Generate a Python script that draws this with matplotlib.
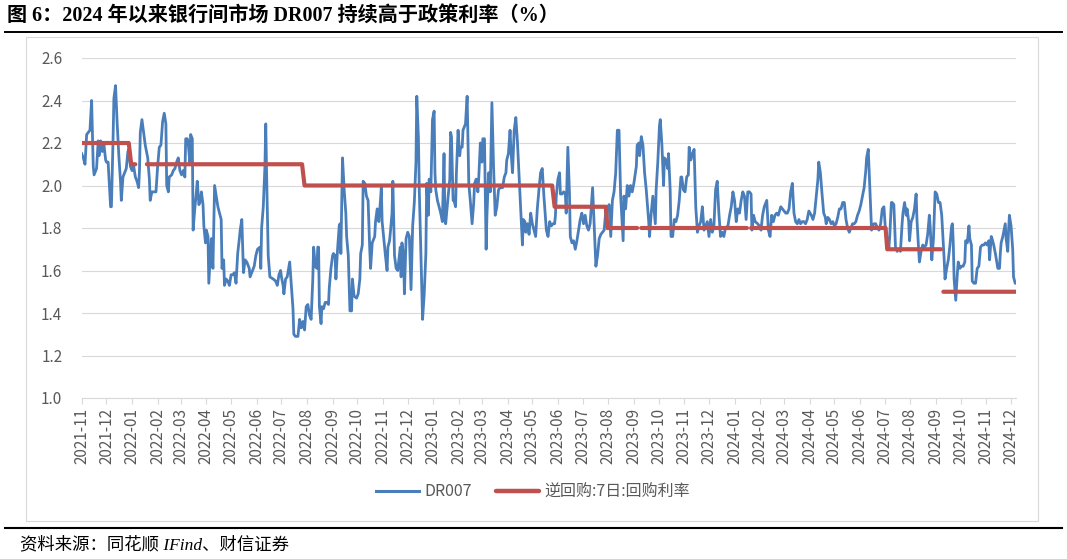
import numpy as np
import matplotlib
matplotlib.use("Agg")
import matplotlib.pyplot as plt
import matplotlib.dates as mdates
from matplotlib.lines import Line2D
from matplotlib.patches import Rectangle

plt.rcParams['font.family'] = ['Noto Sans CJK SC', 'DejaVu Sans']

# ---------------- data ----------------
START_DATE = '2021-11-01'   # day 0 of the series
END_DAY = 1132

# DR007 (days since START_DATE, %)
DR007_DAYS = [
    0, 2, 4, 6, 8, 10, 12, 14, 15, 18,
    20, 21, 23, 25, 27, 29, 30, 32, 34, 35,
    36, 38, 39, 41, 43, 45, 47, 48, 50, 52,
    54, 56, 57, 59, 61, 63, 65, 67, 69, 70,
    71, 73, 75, 77, 80, 82, 83, 85, 87, 90,
    92, 94, 96, 98, 100, 102, 103, 105, 106, 109,
    111, 113, 115, 117, 118, 119, 121, 123, 125, 126,
    128, 129, 131, 132, 134, 135, 137, 139, 140, 142,
    144, 145, 147, 148, 150, 151, 153, 154, 156, 157,
    159, 161, 163, 165, 167, 169, 170, 172, 173, 175,
    177, 179, 181, 183, 185, 187, 189, 191, 192, 194,
    196, 198, 200, 203, 204, 207, 209, 211, 213, 216,
    217, 218, 220, 222, 223, 224, 226, 228, 232, 235,
    237, 239, 241, 242, 244, 245, 247, 249, 252, 254,
    256, 257, 259, 262, 264, 266, 268, 270, 272, 274,
    276, 278, 280, 281, 283, 285, 286, 287, 288, 290,
    291, 293, 295, 297, 299, 300, 302, 304, 305, 307,
    308, 310, 312, 313, 314, 316, 318, 320, 321, 323,
    325, 327, 328, 330, 333, 335, 337, 338, 340, 341,
    343, 345, 347, 349, 350, 352, 355, 356, 358, 360,
    362, 363, 364, 366, 368, 370, 371, 373, 374, 376,
    377, 379, 381, 383, 384, 386, 387, 388, 390, 391,
    393, 395, 397, 399, 401, 403, 405, 406, 408, 409,
    411, 413, 415, 417, 418, 420, 421, 423, 425, 427,
    428, 429, 431, 433, 435, 437, 439, 440, 441, 444,
    446, 447, 448, 450, 451, 453, 454, 456, 458, 459,
    461, 462, 465, 467, 469, 471, 473, 475, 476, 478,
    480, 481, 483, 485, 486, 488, 489, 490, 491, 493,
    494, 495, 497, 499, 501, 503, 505, 507, 510, 512,
    514, 515, 517, 519, 520, 522, 524, 526, 528, 530,
    533, 534, 535, 537, 538, 540, 541, 542, 544, 546,
    548, 550, 552, 554, 556, 558, 560, 562, 563, 565,
    567, 569, 571, 573, 574, 575, 577, 579, 580, 582,
    584, 586, 587, 589, 591, 592, 594, 596, 598, 600,
    602, 604, 606, 608, 610, 612, 614, 616, 619, 621,
    623, 625, 627, 629, 631, 633, 635, 637, 639, 641,
    643, 645, 647, 649, 651, 653, 655, 656, 657, 659,
    661, 663, 665, 667, 669, 672, 673, 675, 676, 678,
    680, 682, 684, 687, 688, 690, 692, 695, 696, 698,
    700, 701, 703, 705, 706, 708, 710, 711, 713, 714,
    716, 718, 720, 722, 724, 726, 727, 729, 731, 733,
    735, 736, 738, 740, 742, 744, 746, 748, 750, 752,
    754, 756, 758, 760, 762, 764, 766, 768, 770, 772,
    774, 776, 778, 780, 783, 785, 787, 789, 791, 793,
    795, 797, 799, 801, 803, 805, 807, 809, 811, 812,
    814, 816, 819, 821, 823, 825, 827, 830, 832, 834,
    836, 838, 840, 842, 844, 847, 849, 851, 853, 855,
    857, 859, 861, 863, 865, 867, 869, 871, 873, 875,
    877, 879, 881, 884, 886, 888, 890, 892, 893, 895,
    897, 899, 901, 902, 904, 906, 908, 910, 912, 914,
    916, 918, 920, 922, 924, 926, 928, 930, 932, 934,
    936, 938, 940, 942, 944, 946, 948, 950, 951, 953,
    955, 957, 958, 960, 962, 964, 966, 968, 970, 972,
    974, 976, 978, 979, 981, 982, 984, 986, 988, 990,
    992, 994, 995, 997, 999, 1000, 1002, 1003, 1005, 1007,
    1009, 1011, 1012, 1014, 1015, 1017, 1019, 1021, 1023, 1025,
    1027, 1028, 1030, 1032, 1034, 1036, 1038, 1040, 1042, 1043,
    1045, 1046, 1048, 1050, 1052, 1054, 1055, 1056, 1057, 1059,
    1061, 1062, 1064, 1066, 1068, 1070, 1071, 1073, 1075, 1076,
    1078, 1079, 1081, 1083, 1085, 1087, 1089, 1091, 1093, 1095,
    1097, 1099, 1100, 1102, 1103, 1105, 1107, 1110, 1112, 1113,
    1114, 1116, 1119, 1120, 1122, 1123, 1124, 1126, 1128, 1129,
    1131, 1132,
]
DR007_VALUES = [
    2.15, 2.13, 2.10, 2.24, 2.25, 2.26, 2.40, 2.09, 2.05, 2.08,
    2.21, 2.14, 2.21, 2.16, 2.19, 2.12, 2.11, 2.11, 1.97, 1.90,
    1.90, 2.22, 2.41, 2.47, 2.29, 2.14, 2.02, 1.93, 2.04, 2.06,
    2.08, 2.16, 2.17, 2.09, 2.07, 2.09, 2.04, 2.02, 1.99, 2.07,
    2.25, 2.31, 2.25, 2.19, 2.13, 2.03, 1.93, 1.97, 1.97, 1.97,
    2.09, 2.18, 2.19, 2.30, 2.34, 2.29, 2.00, 1.97, 2.04, 2.05,
    2.07, 2.08, 2.11, 2.13, 2.10, 2.07, 2.05, 2.07, 2.04, 2.22,
    2.22, 2.20, 2.11, 2.24, 2.22, 1.79, 1.89, 1.97, 2.02, 1.91,
    1.93, 1.97, 1.91, 1.81, 1.73, 1.79, 1.76, 1.54, 1.68, 1.75,
    1.61, 2.00, 1.95, 1.90, 1.87, 1.84, 1.61, 1.65, 1.53, 1.56,
    1.55, 1.53, 1.58, 1.58, 1.59, 1.54, 1.68, 1.75, 1.79, 1.84,
    1.59, 1.65, 1.64, 1.61, 1.57, 1.60, 1.62, 1.67, 1.70, 1.71,
    1.61, 1.80, 1.90, 2.09, 2.29, 2.06, 1.67, 1.57, 1.56, 1.55,
    1.53, 1.58, 1.60, 1.57, 1.53, 1.49, 1.56, 1.57, 1.64, 1.53,
    1.42, 1.30, 1.29, 1.29, 1.37, 1.33, 1.36, 1.32, 1.43, 1.44,
    1.39, 1.37, 1.56, 1.71, 1.62, 1.61, 1.71, 1.71, 1.43, 1.35,
    1.43, 1.42, 1.45, 1.45, 1.44, 1.52, 1.61, 1.67, 1.68, 1.67,
    1.56, 1.70, 1.81, 1.82, 1.68, 2.13, 1.98, 1.87, 1.76, 1.67,
    1.41, 1.41, 1.56, 1.48, 1.47, 1.49, 1.56, 1.68, 1.72, 2.02,
    2.01, 1.95, 1.93, 1.70, 1.61, 1.73, 1.76, 1.83, 1.89, 1.83,
    1.93, 1.99, 1.83, 1.75, 1.67, 1.60, 1.71, 1.74, 1.78, 1.87,
    2.02, 1.67, 1.61, 1.60, 1.64, 1.71, 1.57, 1.73, 1.67, 1.49,
    1.75, 1.78, 1.76, 1.51, 1.81, 1.92, 2.11, 2.42, 2.22, 1.98,
    1.67, 1.37, 1.49, 1.68, 2.01, 1.86, 2.03, 1.97, 2.31, 2.35,
    2.06, 1.98, 1.93, 1.90, 1.87, 1.83, 2.15, 1.87, 1.82, 1.95,
    2.03, 2.25, 2.23, 1.93, 1.93, 1.90, 2.06, 2.26, 2.14, 2.18,
    2.18, 2.26, 2.29, 2.42, 2.01, 1.92, 1.82, 1.92, 2.01, 2.03,
    1.97, 2.03, 2.20, 2.11, 2.22, 2.22, 1.95, 1.70, 1.86, 2.06,
    2.04, 1.97, 2.39, 2.09, 1.86, 1.90, 1.98, 1.99, 1.99, 2.04,
    2.06, 2.12, 2.15, 2.26, 2.17, 2.06, 2.26, 2.32, 2.20, 2.04,
    1.81, 1.72, 1.84, 1.83, 1.78, 1.82, 1.81, 1.77, 1.87, 1.82,
    1.79, 1.76, 1.89, 1.98, 2.06, 2.08, 1.95, 1.84, 1.79, 1.76,
    1.83, 1.81, 1.82, 1.82, 1.86, 1.95, 2.03, 2.06, 1.96, 1.96,
    1.97, 1.96, 1.87, 2.18, 1.96, 1.76, 1.73, 1.74, 1.70, 1.74,
    1.79, 1.84, 1.87, 1.82, 1.86, 1.81, 1.79, 1.82, 1.99, 1.81,
    1.62, 1.67, 1.75, 1.77, 1.78, 1.79, 1.88, 1.89, 1.91, 1.76,
    1.93, 1.97, 2.06, 2.26, 2.26, 1.95, 1.81, 1.74, 1.95, 1.89,
    2.00, 1.95, 2.00, 1.97, 2.01, 2.09, 2.19, 2.20, 2.14, 2.23,
    2.19, 2.06, 1.98, 1.83, 1.76, 1.87, 1.95, 1.82, 1.98, 2.11,
    2.28, 2.31, 2.19, 2.00, 2.13, 2.12, 2.08, 2.15, 1.98, 1.76,
    1.76, 1.84, 1.83, 1.86, 1.93, 2.04, 2.04, 1.98, 1.97, 2.04,
    2.05, 2.18, 2.12, 2.15, 2.17, 1.90, 1.78, 1.81, 1.83, 1.90,
    1.79, 1.81, 1.83, 1.76, 1.84, 1.78, 1.81, 1.98, 2.02, 1.87,
    1.76, 1.78, 1.76, 1.80, 1.81, 1.86, 1.90, 1.97, 1.93, 1.83,
    1.89, 1.87, 1.93, 1.97, 1.95, 1.84, 1.97, 1.97, 1.96, 1.79,
    1.86, 1.83, 1.82, 1.81, 1.79, 1.86, 1.90, 1.93, 1.79, 1.76,
    1.86, 1.83, 1.86, 1.87, 1.86, 1.90, 1.89, 1.88, 1.87, 1.87,
    1.89, 1.97, 2.01, 1.87, 1.83, 1.82, 1.84, 1.82, 1.83, 1.83,
    1.82, 1.84, 1.88, 1.86, 1.84, 1.87, 1.95, 2.03, 2.11, 2.06,
    1.96, 1.87, 1.85, 1.82, 1.85, 1.84, 1.82, 1.83, 1.81, 1.82,
    1.85, 1.89, 1.89, 1.92, 1.92, 1.84, 1.80, 1.78, 1.80, 1.82,
    1.82, 1.83, 1.86, 1.88, 1.91, 1.95, 1.99, 2.07, 2.13, 2.17,
    1.98, 1.79, 1.81, 1.82, 1.82, 1.80, 1.79, 1.82, 1.89, 1.90,
    1.78, 1.75, 1.71, 1.76, 1.92, 1.92, 1.91, 1.71, 1.69, 1.70,
    1.69, 1.82, 1.87, 1.92, 1.86, 1.89, 1.83, 1.74, 1.83, 1.85,
    1.89, 1.96, 1.84, 1.70, 1.64, 1.69, 1.72, 1.71, 1.72, 1.77,
    1.86, 1.81, 1.65, 1.75, 1.97, 1.96, 1.92, 1.92, 1.86, 1.79,
    1.65, 1.56, 1.61, 1.65, 1.72, 1.81, 1.82, 1.73, 1.56, 1.46,
    1.59, 1.64, 1.61, 1.62, 1.62, 1.64, 1.74, 1.73, 1.81, 1.75,
    1.72, 1.55, 1.54, 1.54, 1.61, 1.62, 1.71, 1.72, 1.72, 1.73,
    1.72, 1.74, 1.65, 1.76, 1.75, 1.72, 1.68, 1.61, 1.61, 1.68,
    1.73, 1.76, 1.82, 1.75, 1.69, 1.79, 1.86, 1.81, 1.70, 1.57,
    1.54, 1.54,
]

# 7-day reverse repo rate (NaN = no value, gap in line)
REPO_DAYS = [0, 57, 60, 65, 72, 79, 267, 270, 570, 573, 635, 637, 673, 675,
             678, 806, 808, 811, 974, 976, 1041, 1042, 1044, 1132]
REPO_VALUES = [2.2, 2.2, 2.1, 2.1, np.nan, 2.1, 2.1, 2.0, 2.0, 1.9, 1.9, 1.8, 1.8, np.nan,
               1.8, 1.8, np.nan, 1.8, 1.8, 1.7, 1.7, np.nan, 1.5, 1.5]

SERIES_NAMES = ['DR007', '逆回购:7日:回购利率']
Y_TICKS = [1.0, 1.2, 1.4, 1.6, 1.8, 2.0, 2.2, 2.4, 2.6]
TITLE = '图 6：2024 年以来银行间市场 DR007 持续高于政策利率（%）'
SOURCE = '资料来源：同花顺 IFind、财信证券'

assert len(DR007_DAYS) == len(DR007_VALUES)
assert len(REPO_DAYS) == len(REPO_VALUES)

# ---------------- figure ----------------
W, H = 1067, 559
fig = plt.figure(figsize=(W / 100, H / 100), dpi=100)


def fx(x):
    return x / W


def fy(y):
    return 1 - y / H


base = np.datetime64(START_DATE)
dr_dates = base + np.array(DR007_DAYS).astype('timedelta64[D]')
repo_dates = base + np.array(REPO_DAYS).astype('timedelta64[D]')

ax = fig.add_axes([fx(81.7), fy(398), fx(1016) - fx(81.7), fy(58) - fy(398)])

BLUE = '#4A7EBB'
RED = '#C0504D'
GRID = '#D9D9D9'
TXT = '#595959'

ax.plot(dr_dates, DR007_VALUES, color=BLUE, lw=2.0, solid_joinstyle='round', zorder=3,
        label=SERIES_NAMES[0])
ax.plot(repo_dates, REPO_VALUES, color=RED, lw=3.0, solid_capstyle='round', zorder=4,
        label=SERIES_NAMES[1])

ax.set_ylim(1.0, 2.6)
ax.set_yticks(Y_TICKS)
ax.set_yticklabels([f'{v:.1f}' for v in Y_TICKS])
ax.set_xlim(base, base + np.timedelta64(END_DAY, 'D'))
ax.xaxis.set_major_locator(mdates.MonthLocator())
ax.xaxis.set_major_formatter(mdates.DateFormatter('%Y-%m'))

ax.grid(axis='y', color=GRID, lw=0.8)
ax.set_axisbelow(True)
for s in ['top', 'right', 'left']:
    ax.spines[s].set_visible(False)
ax.spines['bottom'].set_color(GRID)
ax.spines['bottom'].set_linewidth(0.8)
ax.tick_params(axis='y', length=0, pad=14, labelsize=11, labelcolor=TXT)
ax.tick_params(axis='x', length=4, width=0.8, color=GRID, pad=3, labelsize=11,
               labelcolor=TXT, labelrotation=90)

# legend
handles = [Line2D([], [], color=BLUE, lw=2.2), Line2D([], [], color=RED, lw=3.2, solid_capstyle='round')]
fig.legend(handles, SERIES_NAMES, loc='center', bbox_to_anchor=(fx(533), fy(492)),
           ncol=2, frameon=False, fontsize=11.5, labelcolor=TXT, handlelength=2.7,
           handletextpad=0.35, columnspacing=1.5)

# chart frame
fig.patches.append(Rectangle((fx(26), fy(521)), fx(1038) - fx(26), fy(37) - fy(521),
                             transform=fig.transFigure, fill=False, edgecolor=GRID, lw=0.8))

# title and rules
fig.text(fx(7), fy(16), TITLE, fontsize=14.5, fontweight='bold',
         family=['Liberation Serif', 'Noto Sans CJK SC'], ha='left', va='center', color='black')
fig.add_artist(Line2D([fx(5), fx(1062)], [fy(31.5), fy(31.5)], transform=fig.transFigure,
                      color='black', lw=1.4))
fig.add_artist(Line2D([fx(5), fx(1062)], [fy(528), fy(528)], transform=fig.transFigure,
                      color='black', lw=1.5))
fig.text(fx(20), fy(545), SOURCE, fontsize=12.5, style='italic',
         family=['Liberation Serif', 'Noto Sans CJK SC'], ha='left', va='center', color='black')

fig.savefig('out.png', dpi=100)
